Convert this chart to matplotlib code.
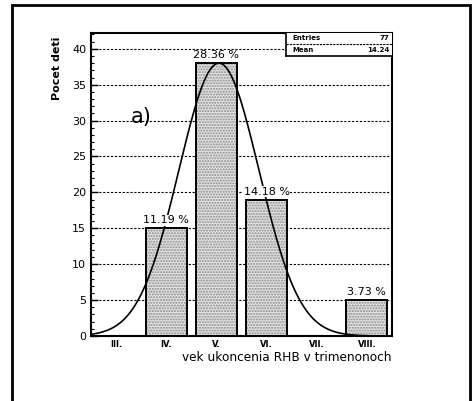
import numpy as np
import matplotlib.pyplot as plt
from matplotlib.patches import Rectangle
from matplotlib.ticker import MultipleLocator

categories = ["III.", "IV.", "V.", "VI.", "VII.", "VIII."]
counts = [0, 15, 38, 19, 0, 5]
pct_labels = ["", "11.19 %", "28.36 %", "14.18 %", "", "3.73 %"]
entries = 77
mean_val = 14.24
# fitted gaussian (in bin units)
fit_amp = 38.0
fit_mu = 2.55
fit_sigma = 0.80

fig = plt.figure(figsize=(4.75, 4.01), dpi=100)
fig.patch.set_facecolor("white")

# outer frame
fig.add_artist(Rectangle((12/475, -0.05), (470-12)/475, 1.05 - 5/401,
                         transform=fig.transFigure, fill=False, lw=2.0,
                         edgecolor="black"))

ax = fig.add_axes([91/475, 1-336/401, (392-91)/475, (336-33)/401])
ax.set_xlim(0, 6)
ax.set_ylim(0, 42.2)

x = np.arange(len(categories)) + 0.5
w = 0.82
for xi, c in zip(x, counts):
    if c > 0:
        ax.bar(xi, c, width=w, facecolor="#e4e4e4", edgecolor="#888888",
               hatch="......", linewidth=0, zorder=2)
        ax.bar(xi, c, width=w, facecolor="none", edgecolor="black",
               linewidth=1.4, zorder=3)

for yv in range(5, 45, 5):
    ax.axhline(yv, color="black", lw=0.8, ls=(0, (2, 1.5)), zorder=1)

xs = np.linspace(0, 6, 400)
ys = fit_amp * np.exp(-0.5 * ((xs - fit_mu) / fit_sigma) ** 2)
ax.plot(xs, ys, color="black", lw=1.2, zorder=4)

for xi, c, lab in zip(x, counts, pct_labels):
    if lab:
        ax.text(xi, c + 0.4, lab, ha="center", va="bottom", fontsize=8,
                zorder=5,
                bbox=dict(facecolor="white", edgecolor="none", pad=0.3))

ax.text(1.0, 30.5, "a)", fontsize=15, ha="center", va="center")

ax.set_xticks(x)
ax.set_xticklabels(categories, fontsize=6, fontweight="bold")
ax.tick_params(axis="x", length=0, pad=3)
ax.yaxis.set_major_locator(MultipleLocator(5))
ax.yaxis.set_minor_locator(MultipleLocator(1))
ax.tick_params(axis="y", which="major", direction="in", length=5, width=1,
               labelsize=8)
ax.tick_params(axis="y", which="minor", direction="in", length=2.5, width=0.8)
ax.set_ylabel("Pocet deti", fontsize=8, fontweight="bold")
ax.yaxis.set_label_coords(-0.095, 0.885)
ax.set_xlabel("vek ukoncenia RHB v trimenonoch", fontsize=8.7)
ax.xaxis.set_label_coords(0.651, -0.048)
for s in ax.spines.values():
    s.set_linewidth(1.5)

# stats box
bx0 = (286 - 91) / 301 * 6
ax.plot([bx0, bx0], [42.2, 39.0], color="black", lw=1.2, zorder=6)
ax.plot([bx0, 6], [39.0, 39.0], color="black", lw=1.2, zorder=6)
ax.plot([bx0, 6], [40.7, 40.7], color="black", lw=0.8, ls=(0, (2, 1)), zorder=6)
ax.add_patch(Rectangle((bx0, 39.0), 6 - bx0, 3.2, facecolor="white",
                       edgecolor="none", zorder=5))
ax.text(bx0 + 0.12, 41.45, "Entries", fontsize=5, fontweight="bold",
        va="center", ha="left", zorder=7)
ax.text(5.95, 41.45, f"{entries}", fontsize=5, fontweight="bold",
        va="center", ha="right", zorder=7)
ax.text(bx0 + 0.12, 39.85, "Mean", fontsize=5, fontweight="bold",
        va="center", ha="left", zorder=7)
ax.text(5.95, 39.85, f"{mean_val:.2f}", fontsize=5, fontweight="bold",
        va="center", ha="right", zorder=7)

fig.savefig("out.png", dpi=100)
